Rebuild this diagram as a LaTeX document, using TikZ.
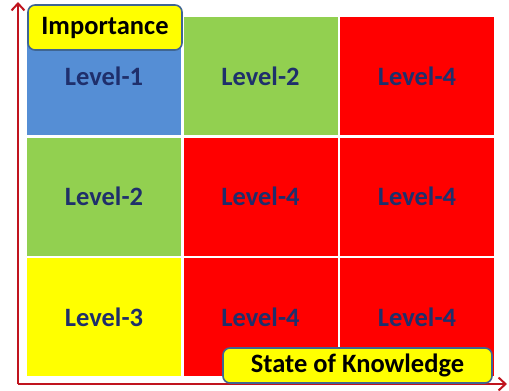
\documentclass[tikz,border=0pt]{standalone}
\usepackage{fontspec}
\setmainfont{Carlito}
\usepackage{tikz}
\usetikzlibrary{arrows.meta}

\definecolor{lvblue}{HTML}{558ED5}
\definecolor{lvgreen}{HTML}{92D050}
\definecolor{lvred}{HTML}{FF0000}
\definecolor{lvyellow}{HTML}{FFFF00}
\definecolor{lvtext}{HTML}{1F2F6B}
\definecolor{axisred}{HTML}{C0141E}
\definecolor{tagborder}{HTML}{3F6592}

\tikzset{
   cell/.style={
      draw=none,
      minimum width=154pt,
      minimum height=118pt,
      inner sep=0pt,
      text=lvtext,
      font=\fontsize{26.5}{30}\selectfont\bfseries
   },
   tag/.style={
      draw=tagborder,
      fill=lvyellow,
      line width=1.6pt,
      rounded corners=7pt,
      inner sep=0pt,
      text=black,
      font=\fontsize{26.5}{30}\selectfont\bfseries
   },
   axis/.style={
      draw=axisred,
      line width=2.2pt,
      -{Straight Barb[length=7pt,width=13pt,line width=2pt]}
   }
}

\begin{document}
\begin{tikzpicture}[x=1pt,y=-1pt]
   \useasboundingbox (0,0) rectangle (509,391);

   % the nine cells, column / row / fill / text
   \foreach \c/\r/\col/\lv in {1/1/lvblue/1, 2/1/lvgreen/2, 3/1/lvred/4,
                               1/2/lvgreen/2, 2/2/lvred/4, 3/2/lvred/4,
                               1/3/lvyellow/3, 2/3/lvred/4, 3/3/lvred/4}
   {
      \pgfmathsetmacro{\cx}{104+156.5*(\c-1)}
      \pgfmathsetmacro{\cy}{76+120.5*(\r-1)}
      \node[cell, fill=\col] (cell\c\r) at (\cx,\cy) {Level-\lv};
   }

   % axes
   \coordinate (origin) at (18,384);
   \coordinate (ytop) at (18,2);
   \coordinate (xend) at (507,384);
   \draw[axis] (origin) -- (ytop);
   \draw[axis] (origin) -- (xend);

   % axis tags
   \node[tag, minimum width=154pt, minimum height=45pt] (importance) at (105,27.5) {Importance};
   \node[tag, minimum width=269pt, minimum height=35pt] (knowledge) at (357.5,365.5) {State of Knowledge};
\end{tikzpicture}
\end{document}
